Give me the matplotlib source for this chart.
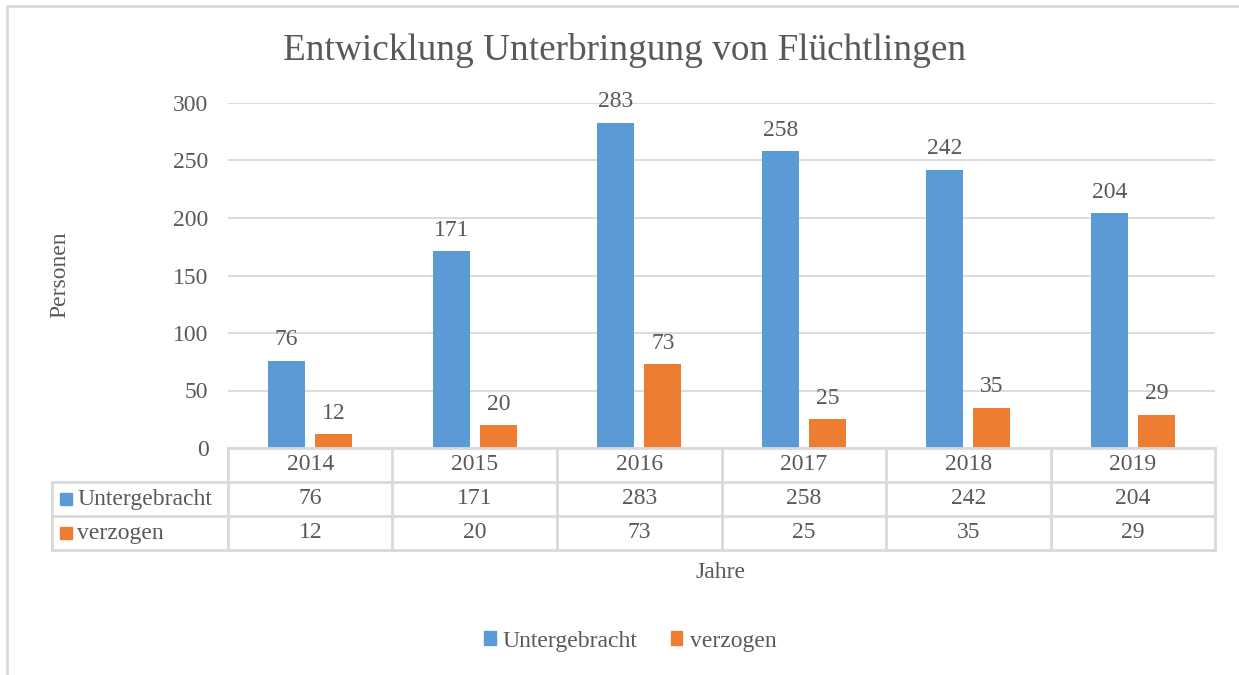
import matplotlib.pyplot as plt
import matplotlib.patches as mpatches
import numpy as np

plt.rcParams['font.family'] = ['Liberation Serif', 'DejaVu Serif']

jahre = ['2014', '2015', '2016', '2017', '2018', '2019']
untergebracht = [76, 171, 283, 258, 242, 204]
verzogen = [12, 20, 73, 25, 35, 29]
serien = ['Untergebracht', 'verzogen']
farben = ['#5B9BD5', '#ED7D31']
textfarbe = '#595959'
linienfarbe = '#D9D9D9'
fs = 17

W, H = 1239, 675
fig = plt.figure(figsize=(W / 100, H / 100), dpi=100)

def fx(px):
    return px / W

def fy(py):
    return 1 - py / H

# Diagrammfläche in Pixeln
x0, x1, y_top, y_bot = 228, 1215, 103, 448
ax = fig.add_axes([fx(x0), fy(y_bot), fx(x1 - x0), (y_bot - y_top) / H])

x = np.arange(len(jahre))
breite = 0.225
versatz = 0.143
b1 = ax.bar(x - versatz, untergebracht, breite, color=farben[0], zorder=3)
b2 = ax.bar(x + versatz, verzogen, breite, color=farben[1], zorder=3)
for bars, werte in [(b1, untergebracht), (b2, verzogen)]:
    for b, v in zip(bars, werte):
        ax.text(b.get_x() + b.get_width() / 2, v + 9, str(v), ha='center', va='bottom',
                fontsize=fs, color=textfarbe)

ax.set_xlim(-0.5, len(jahre) - 0.5)
ax.set_ylim(0, 300)
ax.set_yticks(range(0, 301, 50))
ax.yaxis.grid(True, color=linienfarbe, linewidth=1.3, zorder=0)
ax.set_xticks([])
ax.tick_params(axis='y', length=0, labelsize=fs, labelcolor=textfarbe, pad=14)
for s in ax.spines.values():
    s.set_visible(False)

fig.text(fx(60), fy(275), 'Personen', rotation=90, ha='center', va='center', fontsize=fs, color=textfarbe)

# Titel
fig.text(fx(625), fy(50), 'Entwicklung Unterbringung von Flüchtlingen', ha='center', va='center',
         fontsize=26.8, color=textfarbe)

# Datentabelle
zeilen = [448, 482, 516, 550]
links = 52
spalte = (x1 - x0) / len(jahre)
lw = 2
fig.add_artist(plt.Line2D([fx(x0), fx(x1)], [fy(zeilen[0])] * 2, color=linienfarbe, lw=lw))
for yy in zeilen[1:]:
    fig.add_artist(plt.Line2D([fx(links), fx(x1)], [fy(yy)] * 2, color=linienfarbe, lw=lw))
fig.add_artist(plt.Line2D([fx(links)] * 2, [fy(zeilen[1]), fy(zeilen[3])], color=linienfarbe, lw=lw))
for i in range(len(jahre) + 1):
    xx = x0 + i * spalte
    fig.add_artist(plt.Line2D([fx(xx)] * 2, [fy(zeilen[0]), fy(zeilen[3])], color=linienfarbe, lw=lw))

for i, j in enumerate(jahre):
    xc = x0 + (i + 0.5) * spalte
    fig.text(fx(xc), fy((zeilen[0] + zeilen[1]) / 2), j, ha='center', va='center', fontsize=fs, color=textfarbe)
    fig.text(fx(xc), fy((zeilen[1] + zeilen[2]) / 2), str(untergebracht[i]), ha='center', va='center',
             fontsize=fs, color=textfarbe)
    fig.text(fx(xc), fy((zeilen[2] + zeilen[3]) / 2), str(verzogen[i]), ha='center', va='center',
             fontsize=fs, color=textfarbe)

for k, name in enumerate(serien):
    yc = (zeilen[k + 1] + zeilen[k + 2]) / 2
    fig.add_artist(mpatches.Rectangle((fx(60), fy(yc + 6)), fx(12), 12 / H, color=farben[k]))
    fig.text(fx(77), fy(yc), name, ha='left', va='center', fontsize=fs, color=textfarbe)

fig.text(fx(720), fy(573), 'Jahre', ha='center', va='center', fontsize=fs, color=textfarbe)

# Legende
handles = [mpatches.Patch(color=c, label=n) for c, n in zip(farben, serien)]
fig.legend(handles=handles, loc='center', bbox_to_anchor=(fx(630), fy(641)), ncol=2, frameon=False,
           fontsize=fs, labelcolor=textfarbe, handlelength=0.5, handleheight=0.5,
           handletextpad=0.3, columnspacing=1.4)

# Rahmen
fig.add_artist(mpatches.Rectangle((fx(7), fy(H + 10)), fx(W), (H + 4) / H, fill=False,
                                  edgecolor=linienfarbe, lw=2))

fig.savefig('out.png', dpi=100)
